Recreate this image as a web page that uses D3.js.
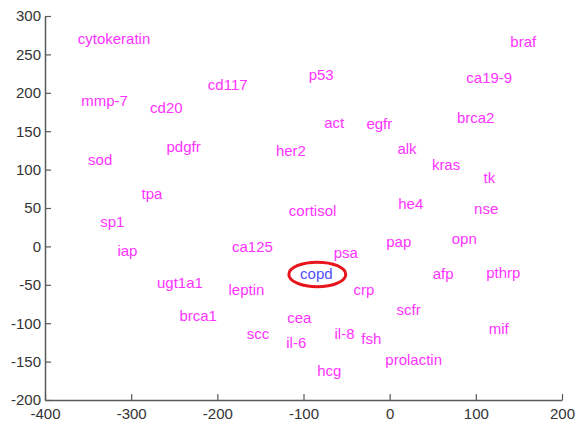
<!DOCTYPE html>
<html>
<head>
<meta charset="utf-8">
<script src="https://cdn.jsdelivr.net/npm/d3@7"></script>
<style>
  body { margin: 0; background: #fff; }
  svg text { font-family: "Liberation Sans", Arial, sans-serif; }
</style>
</head>
<body>
<svg id="chart"></svg>
<script>
const width = 586;
const height = 425;
const margin = { top: 16, right: 24, bottom: 25, left: 45 };

// marker names and their 2-D coordinates (left edge / vertical middle of the label)
const names = [
  'cytokeratin', 'braf', 'mmp-7', 'cd20', 'cd117', 'p53', 'ca19-9', 'act', 'egfr', 'brca2',
  'pdgfr', 'her2', 'alk', 'sod', 'kras', 'tk', 'tpa', 'he4', 'nse', 'cortisol',
  'sp1', 'iap', 'ca125', 'pap', 'opn', 'psa', 'copd', 'afp', 'pthrp', 'ugt1a1',
  'leptin', 'crp', 'scfr', 'brca1', 'cea', 'mif', 'scc', 'il-8', 'fsh', 'il-6',
  'prolactin', 'hcg',
];
const xs = [
  -362, 140, -358, -278, -211, -94, 89, -76, -27, 78,
  -259, -132, 9, -350, 49, 109, -288, 10, 98, -117,
  -336, -316, -183, -4, 72, -65, -104, 50, 112, -270,
  -187, -42, 8, -244, -119, 115, -166, -64, -33, -120,
  -5, -84,
];
const ys = [
  270, 267, 189, 181, 210, 223, 220, 161, 160, 167,
  130, 125, 127, 113, 106, 89, 69, 56, 49, 46,
  32, -6, -1, 6, 10, -8, -35, -36, -34, -47,
  -57, -57, -83, -90, -93, -107, -114, -114, -120, -125,
  -147, -162,
];
const highlight = 'copd';
const xTicks = [-400, -300, -200, -100, 0, 100, 200];
const yTicks = [-200, -150, -100, -50, 0, 50, 100, 150, 200, 250, 300];

const svg = d3.select('#chart').attr('width', width).attr('height', height);
const innerW = width - margin.left - margin.right;
const innerH = height - margin.top - margin.bottom;

const x = d3.scaleLinear().domain([-400, 200]).range([0, innerW]);
const y = d3.scaleLinear().domain([-200, 300]).range([innerH, 0]);

// plain hyphen for negatives, like the original
const fmt = (d) => String(d);

const chart = svg.append('g').attr('transform', `translate(${margin.left},${margin.top})`);

// Axes (MATLAB style: ticks inside, box off)
const yAxis = chart.append('g')
  .call(d3.axisLeft(y).tickValues(yTicks).tickFormat(fmt)
    .tickSizeInner(-6).tickSizeOuter(0).tickPadding(4));
const xAxis = chart.append('g')
  .attr('transform', `translate(0,${innerH})`)
  .call(d3.axisBottom(x).tickValues(xTicks).tickFormat(fmt)
    .tickSizeInner(-6).tickSizeOuter(0).tickPadding(6));

[xAxis, yAxis].forEach((ax) => {
  ax.select('.domain').attr('stroke', '#5a5a5a').attr('stroke-width', 1.5);
  ax.selectAll('.tick line').attr('stroke', '#5a5a5a').attr('stroke-width', 1.2);
  ax.selectAll('text').attr('fill', '#333').style('font-size', '15px');
});
xAxis.selectAll('text').attr('dy', '0.85em');

// Labels
const pts = names.map((n, i) => ({ name: n, x: xs[i], y: ys[i] }));
chart.append('g')
  .selectAll('text')
  .data(pts)
  .join('text')
  .attr('x', (d) => x(d.x))
  .attr('y', (d) => y(d.y))
  .attr('dy', '0.35em')
  .attr('fill', (d) => (d.name === highlight ? '#4f4fff' : '#ff33ff'))
  .style('font-size', '15px')
  .text((d) => d.name);

// Red ellipse round the highlighted label
const hl = pts.find((d) => d.name === highlight);
chart.append('ellipse')
  .attr('cx', x(hl.x + 20))
  .attr('cy', y(hl.y - 1.5))
  .attr('rx', x(33) - x(0))
  .attr('ry', y(0) - y(16))
  .attr('fill', 'none')
  .attr('stroke', '#e8141c')
  .attr('stroke-width', 3);
</script>
</body>
</html>
